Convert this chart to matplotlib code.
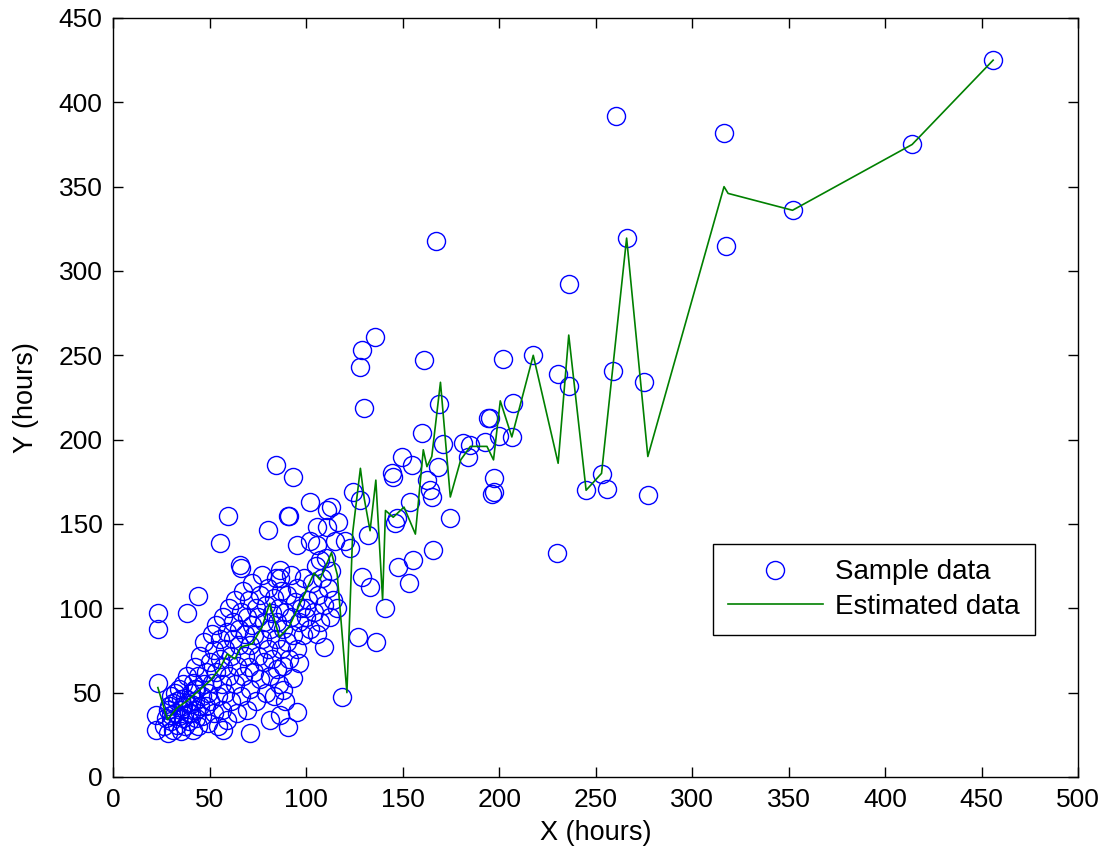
import matplotlib
matplotlib.use('Agg')
import matplotlib.pyplot as plt

plt.rcParams['font.family'] = ['Liberation Sans', 'DejaVu Sans']

# sample data (hours)
x_sample = [456, 414, 352, 316.5, 317.5, 260.5, 266, 236, 217.6, 230.5, 236, 259, 275,
            207, 206.5, 202, 245, 253, 256, 277, 230, 196, 197, 197, 194, 200, 192.6,
            184, 181, 170.8, 160, 169, 161, 167, 135.5, 129, 128, 130, 149.6, 155,
            144.5, 162.5, 164, 165, 174.5, 124, 128, 153.7, 147, 146, 132, 165.8,
            155.5, 147.6, 153, 141, 136, 127, 129, 133, 118.5, 116, 122.6, 116.6, 102,
            110.6, 105.5, 110.6, 105.5, 95, 90.5, 80, 84, 93, 107, 86.4, 86.4, 109,
            105.6, 96, 93, 95, 90.7, 86.4, 88, 66, 59.5, 91, 55.3, 38, 44, 23, 23, 23,
            22, 22, 57, 71, 81, 65.8, 185, 195, 168, 145, 113, 120, 100, 102,
            26, 27, 28, 29, 30, 30, 31, 32, 33, 33, 34, 35, 35, 36, 36, 37, 38, 38, 39, 40,
            40, 41, 41, 42, 42, 43, 43, 44, 44, 45, 45, 46, 46, 47, 47, 48, 48, 49, 49, 50,
            50, 51, 51, 52, 52, 53, 53, 54, 54, 55, 55, 56, 56, 57, 57, 58, 58, 59, 59, 60,
            60, 61, 61, 62, 62, 63, 63, 64, 64, 65, 65, 66, 66, 67, 67, 68, 68, 69, 69, 70,
            70, 71, 71, 72, 72, 73, 73, 74, 74, 75, 75, 76, 76, 77, 77, 78, 78, 79, 79, 80,
            80, 81, 81, 82, 82, 83, 83, 84, 84, 85, 85, 86, 86, 87, 87, 88, 88, 89, 89, 90,
            90, 91, 92, 92, 93, 94, 95, 95, 96, 97, 98, 99, 100, 101, 102, 103, 104, 105,
            106, 107, 108, 109, 110, 111, 112, 113, 114, 115,
            28, 31, 34, 37, 40, 43, 32, 36, 39, 42, 30, 35]
y_sample = [425, 375, 336, 382, 315, 392, 319.5, 292, 250, 239, 232, 240.7, 234,
            221.7, 201.6, 248, 170, 179.6, 171, 167, 133, 168, 169, 177, 213, 202, 198.6,
            190, 198, 197.5, 204, 221, 247, 318, 260.8, 253, 243, 218.8, 189.7, 185,
            180, 176, 170, 166, 153.5, 169, 164, 163, 153.5, 150.6, 143.5, 134.6,
            128.6, 124.5, 115, 100, 80, 83, 118.6, 112.6, 47.4, 100, 136, 151, 163,
            158, 148, 148, 137.5, 137.5, 155, 146.4, 185, 178, 128.6, 122.7, 118, 77,
            85, 67.6, 58.7, 38.5, 29.6, 36.8, 51.6, 124, 155, 155, 139, 97, 107, 97, 88, 56,
            37, 28, 28, 26, 34, 125.7, 197, 213, 184, 178, 160, 140, 100, 140,
            30, 35, 26, 42, 33, 48, 28, 38, 45, 31, 52, 27, 40, 35, 55, 30, 44, 60, 33, 50,
            38, 28, 56, 45, 65, 35, 52, 30, 60, 42, 72, 48, 36, 55, 80, 42, 62, 32, 50, 68,
            45, 85, 56, 38, 75, 62, 90, 48, 30, 70, 82, 55, 40, 95, 65, 76, 50, 86, 34, 60,
            100, 72, 45, 82, 92, 55, 105, 66, 38, 88, 78, 48, 98, 60, 110, 72, 85, 40, 95, 65,
            105, 78, 52, 90, 115, 62, 84, 100, 45, 72, 95, 108, 58, 82, 120, 68, 92, 50, 102, 76,
            112, 60, 88, 97, 70, 106, 48, 82, 118, 64, 92, 100, 55, 76, 110, 88, 66, 98, 45, 80,
            108, 70, 95, 120, 84, 104, 76, 112, 92, 100, 84, 118, 95, 105, 88, 115, 98, 125,
            108, 92, 118, 102, 130, 112, 95, 122, 105, 140,
            40, 44, 36, 47, 43, 40, 50, 42, 38, 52, 37, 46]

# estimated data (green line), sorted by x
x_est = [23, 28, 33, 38, 45, 50, 55, 59, 63, 66, 72, 77, 81, 86, 91, 98, 100, 104, 107,
         113, 116, 121, 124, 128, 130, 133, 136, 139.5, 141, 145, 150.6, 156.5, 160.6,
         162.5, 165, 169.5, 174.6, 180, 185, 193.6, 197, 200.5, 206.5, 217.6, 230.5,
         236, 245, 253, 266, 277, 316.5, 318.6, 352, 414, 456]
y_est = [53, 34, 41, 45, 52, 57, 64, 73, 70, 77, 79, 89, 103, 83, 89, 106, 111, 121, 117,
         133, 120, 50, 145, 183, 165, 146, 176, 105, 158, 154, 160, 144, 194,
         184, 190, 234, 166, 188, 196, 196, 188, 223, 201.6, 250, 186,
         262, 170, 180, 319.5, 190, 350, 346, 336, 375, 425]

fig = plt.figure(figsize=(11.17, 8.61), dpi=100)
ax = fig.add_axes([0.1016, 0.0976, 0.8635, 0.8815])

ax.plot(x_sample, y_sample, 'o', markersize=13, markerfacecolor='none',
        markeredgecolor=(0, 0, 1), markeredgewidth=1.0, label='Sample data')
ax.plot(x_est, y_est, '-', color=(0, 0.5, 0), linewidth=1.2, label='Estimated data')

ax.set_xlim(0, 500)
ax.set_ylim(0, 450)
ax.set_xticks(range(0, 501, 50))
ax.set_yticks(range(0, 451, 50))
ax.tick_params(direction='in', length=7, width=1, labelsize=19, top=True, right=True, pad=8)
for s in ax.spines.values():
    s.set_linewidth(1.0)

ax.set_xlabel('X (hours)', fontsize=19.5, labelpad=6)
ax.set_ylabel('Y (hours)', fontsize=19.5, labelpad=14)

leg = ax.legend(loc='upper right', bbox_to_anchor=(0.9554, 0.307), fontsize=20,
                fancybox=False, edgecolor='black', framealpha=1, borderpad=0.55,
                handlelength=3.4, handletextpad=0.45, labelspacing=0.3,
                borderaxespad=0)
leg.get_frame().set_linewidth(1.0)

fig.savefig('out.png', dpi=100)
